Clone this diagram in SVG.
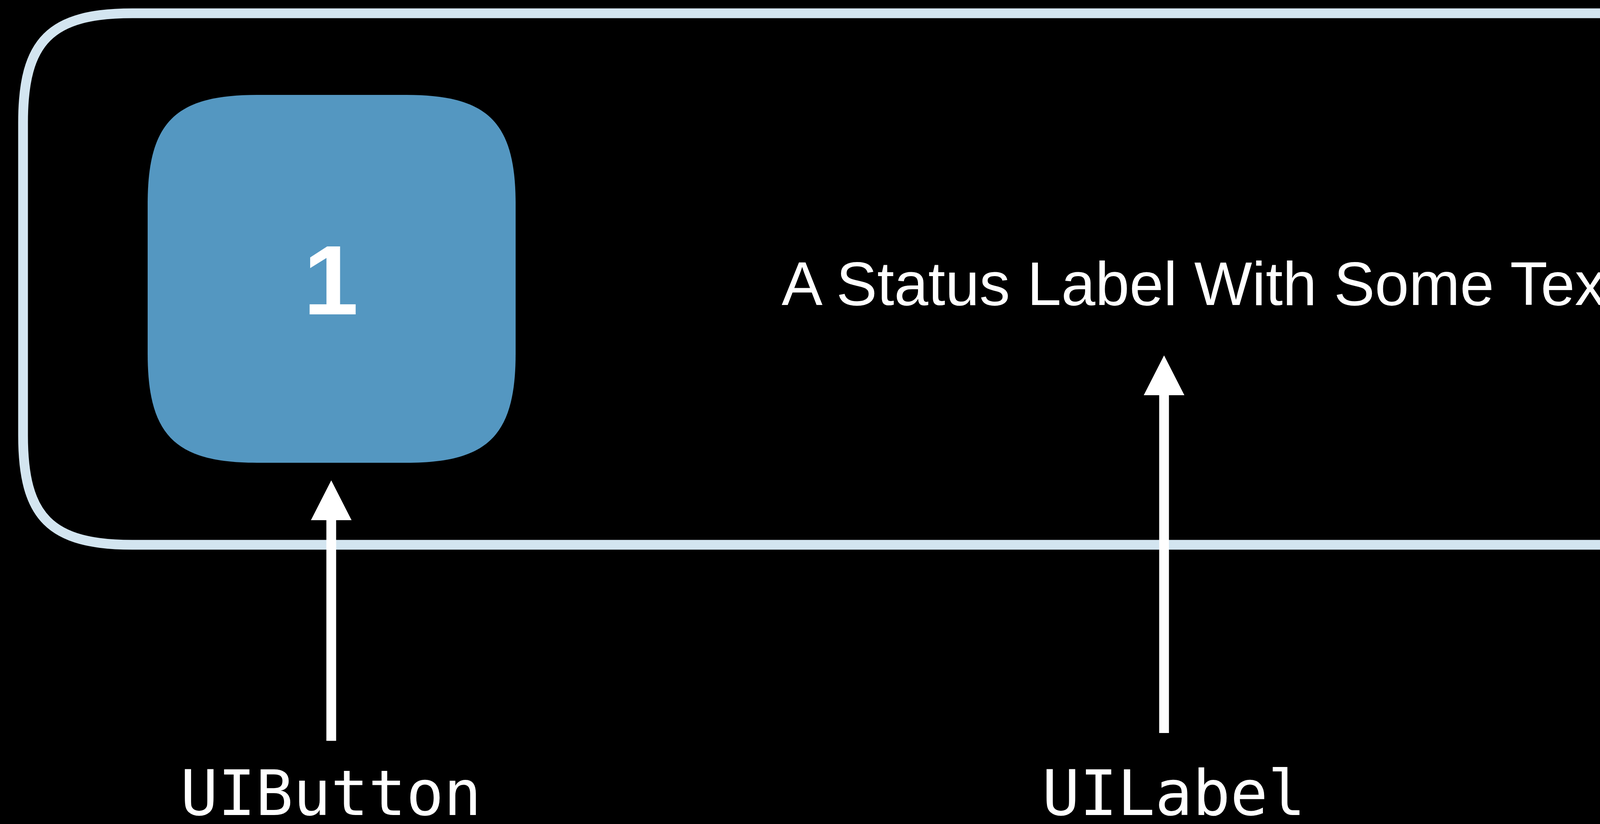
<svg xmlns="http://www.w3.org/2000/svg" width="5917" height="2110" viewBox="0 0 5917 2110">
  <style>
    .frame { fill: none; stroke: #D3E5F0; stroke-width: 25; }
    .button { fill: #5497C1; }
    .conn { stroke: #FFFFFF; stroke-width: 25; fill: none; stroke-linecap: butt; }
    .sans { font-family: "Liberation Sans", Arial, sans-serif; fill: #FFFFFF; }
    .mono { font-family: "DejaVu Sans Mono", "Liberation Mono", monospace; fill: #FFFFFF; font-size: 160px; text-anchor: middle; }
  </style>
  <defs>
    <marker id="head" viewBox="0 0 102 104" markerUnits="userSpaceOnUse" markerWidth="102" markerHeight="104" refX="0" refY="52" orient="auto">
      <path d="M0,0 L102,52 L0,104 Z" fill="#FFFFFF"/>
    </marker>
  </defs>
  <rect x="0" y="0" width="5917" height="2110" fill="#000000"/>

  <g id="container">
    <path class="frame" d="M339,34 L5674,34 C5884,34 5954,104 5954,314 L5954,1115 C5954,1325 5884,1395 5674,1395 L339,1395 C129,1395 59,1325 59,1115 L59,314 C59,104 129,34 339,34 Z"/>
  </g>

  <g id="button">
    <path class="button" d="M658,243 L1040,243 C1250,243 1320,313 1320,523 L1320,905 C1320,1115 1250,1185 1040,1185 L658,1185 C448,1185 378,1115 378,905 L378,523 C378,313 448,243 658,243 Z"/>
    <text class="sans" x="847" y="805" font-size="253" font-weight="bold" text-anchor="middle">1</text>
  </g>

  <g id="status-label">
    <text class="sans" x="2001" y="781" font-size="157">A Status Label With Some Text</text>
  </g>

  <g id="uibutton-caption">
    <text class="mono" x="847" y="2087">UIButton</text>
  </g>

  <g id="uilabel-caption">
    <text class="mono" x="3005" y="2087">UILabel</text>
  </g>

  <g id="connectors">
    <line class="conn" x1="848" y1="1897" x2="848" y2="1332" marker-end="url(#head)"/>
    <line class="conn" x1="2980" y1="1877" x2="2980" y2="1012" marker-end="url(#head)"/>
  </g>
</svg>
